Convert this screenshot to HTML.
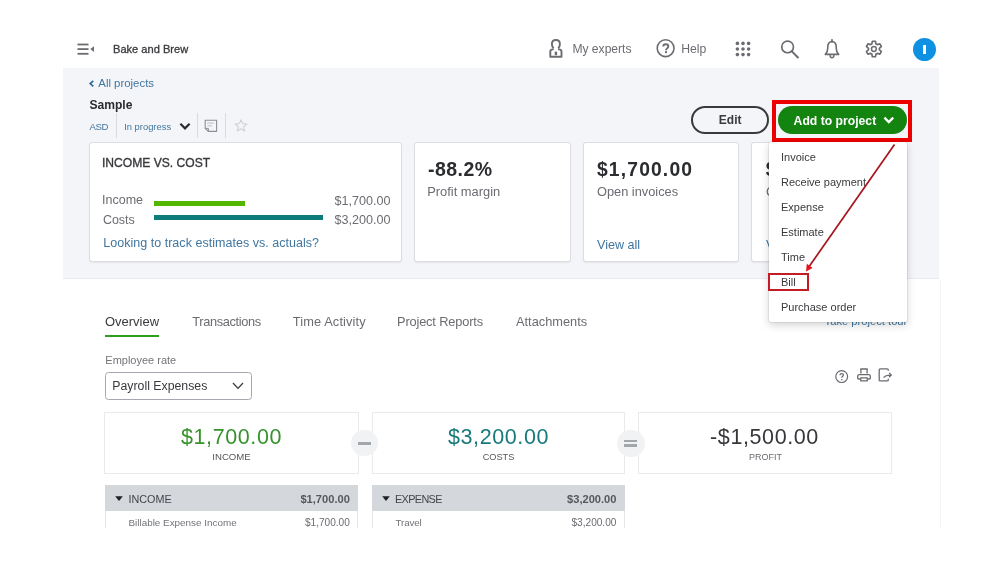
<!DOCTYPE html>
<html><head><meta charset="utf-8">
<style>
*{margin:0;padding:0;box-sizing:border-box}
html,body{width:999px;height:562px;overflow:hidden;background:#fff}
body{position:relative;will-change:transform;font-family:"Liberation Sans",sans-serif;color:#393a3d}
.a{position:absolute;white-space:nowrap;line-height:1}
.g{color:#6b6c72}
.b{color:#41769f}
.bd{font-weight:bold}
svg{position:absolute;overflow:visible}
#hdrbg{position:absolute;left:63px;top:68px;width:876px;height:211px;background:#f4f5f8;border-bottom:1px solid #e9ebee}
.card{position:absolute;top:142.8px;height:118.6px;background:#fff;border-radius:2px;box-shadow:0 0 0 1px #dcdee2,0 1px 2px rgba(0,0,0,.2)}
.sb{position:absolute;top:412.3px;height:61.6px;background:#fff;border:1px solid #e8eaec}
.circ{position:absolute;width:26.5px;height:26.5px;border-radius:50%;background:#f1f2f4}
.th{position:absolute;top:485.4px;height:26px;background:#d4d7dc}
.tr{position:absolute;top:511.4px;height:16.6px;border-left:1px solid #e4e6e9;border-right:1px solid #e4e6e9;background:#fff}
.mi{position:absolute;left:781px;font-size:11px;line-height:1}
</style></head><body>

<!-- top nav -->
<svg style="left:77px;top:43px" width="20" height="13" viewBox="0 0 20 13">
 <rect x="0.5" y="0.6" width="11" height="1.8" fill="#6b6c72"/>
 <rect x="0.5" y="5.2" width="11" height="1.8" fill="#6b6c72"/>
 <rect x="0.5" y="9.9" width="11" height="1.8" fill="#6b6c72"/>
 <path d="M17 3.2 L13.3 6.1 L17 9 Z" fill="#6b6c72"/>
</svg>
<div class="a" style="left:113px;top:44.1px;font-size:11.1px;-webkit-text-stroke:0.3px #393a3d;color:#393a3d">Bake and Brew</div>

<!-- my experts icon -->
<svg style="left:545px;top:36px" width="22" height="24" viewBox="545 36 22 24">
 <path d="M553.6 48.2 C552.2 47 551.9 45.4 551.9 43.9 C551.9 41.2 553.5 40 555.9 40 C558.3 40 559.9 41.2 559.9 43.9 C559.9 45.4 559.6 47 558.2 48.2" fill="none" stroke="#6b6c72" stroke-width="1.9"/>
 <path d="M553.8 49.4 L552.9 49.4 C551.3 49.4 550.3 50.3 550.3 51.7 L550.3 56.7 L561.5 56.7 L561.5 51.7 C561.5 50.3 560.5 49.4 558.9 49.4 L558 49.4" fill="none" stroke="#6b6c72" stroke-width="1.9" stroke-linejoin="round"/>
 <path d="M554.7 51.6 L557.1 51.6 L557.1 55.2 L554.7 55.2 Z" fill="#6b6c72"/>
</svg>
<div class="a g" style="left:572.4px;top:43.2px;font-size:12.1px">My experts</div>
<svg style="left:652px;top:36px" width="26" height="26" viewBox="652 36 26 26">
 <circle cx="665.6" cy="48.2" r="8.4" fill="none" stroke="#6b6c72" stroke-width="1.6"/>
 <path d="M663.3 46.6 C663.3 45 664.4 44.3 665.8 44.3 C667.3 44.3 668.3 45.1 668.3 46.4 C668.3 48.3 666 48.4 666 50.3" fill="none" stroke="#6b6c72" stroke-width="1.9"/>
 <circle cx="666" cy="52.2" r="1.15" fill="#6b6c72"/>
</svg>
<div class="a g" style="left:681.2px;top:43.2px;font-size:12.2px">Help</div>
<!-- grid -->
<svg style="left:735px;top:41px" width="16" height="16" viewBox="0 0 16 16" fill="#6b6c72">
 <circle cx="2.4" cy="2.4" r="1.8"/><circle cx="8" cy="2.4" r="1.8"/><circle cx="13.6" cy="2.4" r="1.8"/>
 <circle cx="2.4" cy="8" r="1.8"/><circle cx="8" cy="8" r="1.8"/><circle cx="13.6" cy="8" r="1.8"/>
 <circle cx="2.4" cy="13.6" r="1.8"/><circle cx="8" cy="13.6" r="1.8"/><circle cx="13.6" cy="13.6" r="1.8"/>
</svg>
<!-- search -->
<svg style="left:780px;top:40px" width="20" height="19" viewBox="0 0 20 19">
 <circle cx="7.6" cy="6.9" r="5.85" fill="none" stroke="#6b6c72" stroke-width="1.7"/>
 <path d="M11.9 11.4 L17.9 17.5" stroke="#6b6c72" stroke-width="2" stroke-linecap="round"/>
</svg>
<!-- bell -->
<svg style="left:820px;top:36px" width="24" height="26" viewBox="820 36 24 26">
 <path d="M832 40 L832 41.4" stroke="#6b6c72" stroke-width="1.8" stroke-linecap="round"/>
 <path d="M825.3 54.4 C827.3 52.6 827.8 50.5 827.8 46.8 C827.8 43.6 829.4 41.7 832 41.7 C834.6 41.7 836.2 43.6 836.2 46.8 C836.2 50.5 836.7 52.6 838.7 54.4 Z" fill="none" stroke="#6b6c72" stroke-width="1.6" stroke-linejoin="round"/>
 <path d="M830 55 A2 2.7 0 0 0 834 55" fill="none" stroke="#6b6c72" stroke-width="1.4"/>
</svg>
<!-- gear -->
<svg style="left:862px;top:37px" width="24" height="24" viewBox="862 37 24 24">
 <path fill="none" stroke="#6b6c72" stroke-width="1.7" stroke-linejoin="round" d="M871.76 43.93 L872.41 41.24 L875.39 41.24 L876.04 43.93 L877.22 44.61 L879.87 43.83 L881.36 46.41 L879.36 48.32 L879.36 49.68 L881.36 51.59 L879.87 54.17 L877.22 53.39 L876.04 54.07 L875.39 56.76 L872.41 56.76 L871.76 54.07 L870.58 53.39 L867.93 54.17 L866.44 51.59 L868.44 49.68 L868.44 48.32 L866.44 46.41 L867.93 43.83 L870.58 44.61 Z"/>
 <circle cx="873.9" cy="49" r="2.4" fill="none" stroke="#6b6c72" stroke-width="1.5"/>
</svg>
<!-- avatar -->
<div style="position:absolute;left:912.5px;top:37.7px;width:23px;height:23px;border-radius:50%;background:#0f91e3"></div>
<div style="position:absolute;left:923.2px;top:45.1px;width:2.5px;height:8.9px;background:#fff"></div>

<!-- gray project header -->
<div id="hdrbg"></div>
<svg style="left:89px;top:80px" width="6" height="7" viewBox="0 0 6 7"><path d="M4.3 0.9 L1.2 3.6 L4.3 6.3" fill="none" stroke="#2f6b99" stroke-width="1.7"/></svg>
<div class="a b" style="left:98.3px;top:77.8px;font-size:11.4px">All projects</div>
<div class="a bd" style="left:89.4px;top:99.3px;font-size:12.1px;color:#2b2c30">Sample</div>
<div class="a b" style="left:89.4px;top:121.9px;font-size:9.6px;letter-spacing:-0.35px">ASD</div>
<div style="position:absolute;left:115.5px;top:113px;width:1px;height:25px;background:#d9dbdf"></div>
<div class="a b" style="left:124.2px;top:122px;font-size:9.4px">In progress</div>
<svg style="left:179px;top:122px" width="12" height="9" viewBox="0 0 12 9"><path d="M1.4 1.8 L6 6.4 L10.6 1.8" fill="none" stroke="#2b2c30" stroke-width="2.2"/></svg>
<div style="position:absolute;left:196.5px;top:113px;width:1px;height:25px;background:#d9dbdf"></div>
<svg style="left:204px;top:119px" width="14" height="14" viewBox="0 0 14 14">
 <path d="M1.2 1.2 L12.6 1.2 L12.6 12.4 L4.4 12.4 L1.2 9.4 Z" fill="none" stroke="#8d9096" stroke-width="1.1"/>
 <path d="M1.2 9.4 L4.4 9.4 L4.4 12.4" fill="none" stroke="#8d9096" stroke-width="1"/>
 <path d="M3.4 4.6 L4.3 3.6 L5.2 4.6 L6.1 3.6 L7 4.6 L7.9 3.6 L8.8 4.6 L9.7 3.6 M3.4 7.4 L4.3 6.4 L5.2 7.4 L6.1 6.4 L7 7.4 L7.9 6.4" fill="none" stroke="#a9acb1" stroke-width="0.8"/>
</svg>
<div style="position:absolute;left:225px;top:113px;width:1px;height:25px;background:#d9dbdf"></div>
<svg style="left:234px;top:119px" width="14" height="13" viewBox="0 0 14 13"><path d="M7 0.8 L8.7 4.6 L12.9 5 L9.7 7.8 L10.7 12 L7 9.8 L3.3 12 L4.3 7.8 L1.1 5 L5.3 4.6 Z" fill="none" stroke="#d0d2d6" stroke-width="1.1" stroke-linejoin="round"/></svg>

<!-- buttons -->
<div style="position:absolute;left:691px;top:106px;width:77.5px;height:28px;border:2px solid #393a3d;border-radius:14px"></div>
<div class="a bd" style="left:718.8px;top:113.6px;font-size:12px">Edit</div>
<div style="position:absolute;left:772px;top:100px;width:140px;height:41.5px;border:4.2px solid #ee0000"></div>
<div style="position:absolute;left:778.3px;top:106px;width:129px;height:28px;border-radius:14px;background:#12840f"></div>
<div class="a bd" style="left:793.6px;top:114.9px;font-size:12.2px;color:#fff">Add to project</div>
<svg style="left:883px;top:116px" width="12" height="9" viewBox="0 0 12 9"><path d="M1.4 1.6 L5.8 6 L10.2 1.6" fill="none" stroke="#fff" stroke-width="2.3"/></svg>

<!-- cards -->
<div class="card" style="left:90px;width:311px"></div>
<div class="a" style="left:102px;top:157px;font-size:12.1px;-webkit-text-stroke:0.35px #393a3d;color:#393a3d">INCOME VS. COST</div>
<div class="a g" style="left:102px;top:194.4px;font-size:12.5px">Income</div>
<div class="a g" style="left:102.9px;top:213.7px;font-size:12.5px">Costs</div>
<div style="position:absolute;left:154px;top:200.5px;width:90.5px;height:5.2px;background:#53b700"></div>
<div style="position:absolute;left:154px;top:214.7px;width:169px;height:5.3px;background:#0e7c7b"></div>
<div class="a g" style="right:608.5px;top:194.7px;font-size:12.6px">$1,700.00</div>
<div class="a g" style="right:608.5px;top:213.6px;font-size:12.6px">$3,200.00</div>
<div class="a b" style="left:103.2px;top:237px;font-size:12.5px;letter-spacing:0.03px">Looking to track estimates vs. actuals?</div>

<div class="card" style="left:415px;width:155px"></div>
<div class="a bd" style="left:428px;top:159.7px;font-size:19.5px;letter-spacing:0.45px;color:#2b2c30">-88.2%</div>
<div class="a g" style="left:427.2px;top:186.1px;font-size:12.9px">Profit margin</div>

<div class="card" style="left:584px;width:154px"></div>
<div class="a bd" style="left:597px;top:159.6px;font-size:19.3px;letter-spacing:1.15px;color:#2b2c30">$1,700.00</div>
<div class="a g" style="left:597px;top:186.2px;font-size:12.8px">Open invoices</div>
<div class="a b" style="left:597px;top:238.8px;font-size:12.6px">View all</div>

<div class="card" style="left:752px;width:154px"></div>
<div class="a bd" style="left:765.8px;top:159.6px;font-size:19.3px;color:#2b2c30">$</div>
<div class="a g" style="left:766px;top:186.2px;font-size:12.8px">O</div>
<div class="a b" style="left:766px;top:238.8px;font-size:12.6px">V</div>

<!-- main content -->
<div style="position:absolute;left:939.6px;top:279px;width:1px;height:249px;background:#f5f5f6"></div>
<div class="a b" style="left:824.6px;top:316.2px;font-size:11.2px">Take project tour</div>

<div class="a" style="left:104.9px;top:314.7px;font-size:13px">Overview</div>
<div style="position:absolute;left:104.9px;top:335.3px;width:54.1px;height:2.1px;background:#2ca01c"></div>
<div class="a g" style="left:192.3px;top:316px;font-size:12.8px;letter-spacing:-0.35px">Transactions</div>
<div class="a g" style="left:292.8px;top:316px;font-size:12.8px;letter-spacing:0.12px">Time Activity</div>
<div class="a g" style="left:397px;top:316px;font-size:12.8px;letter-spacing:-0.15px">Project Reports</div>
<div class="a g" style="left:516px;top:316px;font-size:12.8px">Attachments</div>

<div class="a" style="left:105.3px;top:354.9px;font-size:11px;color:#727479">Employee rate</div>
<div style="position:absolute;left:104.5px;top:371.5px;width:147px;height:28px;border:1px solid #a4a8ae;border-radius:3.5px;background:#fff"></div>
<div class="a" style="left:112.3px;top:380.2px;font-size:12.3px">Payroll Expenses</div>
<svg style="left:232px;top:382px" width="12" height="8" viewBox="0 0 12 8"><path d="M1 1 L6 6.4 L11 1" fill="none" stroke="#393a3d" stroke-width="1.3"/></svg>

<svg style="left:835px;top:369.5px" width="14" height="14" viewBox="0 0 14 14">
 <circle cx="6.7" cy="6.6" r="5.9" fill="none" stroke="#6b6c72" stroke-width="1.2"/>
 <path d="M5 5.3 C5 4.2 5.8 3.6 6.7 3.6 C7.7 3.6 8.4 4.2 8.4 5.1 C8.4 6.3 6.8 6.4 6.8 7.8" fill="none" stroke="#6b6c72" stroke-width="1.3"/>
 <circle cx="6.8" cy="9.7" r="0.8" fill="#6b6c72"/>
</svg>
<svg style="left:854px;top:365px" width="42" height="20" viewBox="854 365 42 20">
 <path d="M860.9 373.6 L860.9 369 L867.1 369 L867.1 373.6" fill="none" stroke="#6b6c72" stroke-width="1.3"/>
 <path d="M860.2 379 L858.6 379 C858 379 857.7 378.6 857.7 378 L857.7 376.2 C857.7 375.2 858.3 374.6 859.3 374.6 L868.7 374.6 C869.7 374.6 870.3 375.2 870.3 376.2 L870.3 378 C870.3 378.6 870 379 869.4 379 L867.8 379" fill="none" stroke="#6b6c72" stroke-width="1.3"/>
 <path d="M860.8 377.9 L867.2 377.9 L867.2 380.8 L860.8 380.8 Z" fill="none" stroke="#6b6c72" stroke-width="1.3"/>
 <path d="M888.3 370.7 L888.3 369.9 C888.3 369.2 887.8 368.9 887.2 368.9 L880.2 368.9 C879.6 368.9 879.2 369.3 879.2 369.9 L879.2 379.9 C879.2 380.5 879.6 380.9 880.2 380.9 L887.2 380.9 C887.8 380.9 888.3 380.6 888.3 379.9 L888.3 378.7" fill="none" stroke="#6b6c72" stroke-width="1.3"/>
 <path d="M883.6 377.7 C884.8 375.7 886.8 375.1 891 375.1 M889.1 372.9 L891.3 375.1 L889.1 377.3" fill="none" stroke="#6b6c72" stroke-width="1.3"/>
</svg>

<!-- summary -->
<div class="sb" style="left:104px;width:255px"></div>
<div class="sb" style="left:371.5px;width:253.5px"></div>
<div class="sb" style="left:637.5px;width:254px"></div>
<div class="a" style="left:104px;width:255px;text-align:center;top:427px;font-size:21.5px;letter-spacing:0.6px;color:#36922b">$1,700.00</div>
<div class="a" style="left:104px;width:255px;text-align:center;top:451.5px;font-size:9.6px;color:#55575c">INCOME</div>
<div class="a" style="left:371.5px;width:254px;text-align:center;top:427px;font-size:21.5px;letter-spacing:0.6px;color:#18797a">$3,200.00</div>
<div class="a" style="left:371.5px;width:254px;text-align:center;top:452.6px;font-size:9.2px;color:#55575c">COSTS</div>
<div class="a" style="left:637.5px;width:254px;text-align:center;top:427px;font-size:21.5px;letter-spacing:0.6px;color:#36373b">-$1,500.00</div>
<div class="a g" style="left:638.5px;width:254px;text-align:center;top:452.6px;font-size:9.0px">PROFIT</div>
<div class="circ" style="left:351.2px;top:429.8px"></div>
<div style="position:absolute;left:358.2px;top:441.8px;width:12.5px;height:2.9px;background:#a3a6ab"></div>
<div class="circ" style="left:617px;top:429.8px;width:27.5px;height:27.5px"></div>
<div style="position:absolute;left:624.1px;top:439.6px;width:12.9px;height:2.8px;background:#a3a6ab"></div>
<div style="position:absolute;left:624.1px;top:444.1px;width:12.9px;height:2.8px;background:#a3a6ab"></div>

<!-- tables -->
<div class="th" style="left:105px;width:253px"></div>
<svg style="left:114.8px;top:496.3px" width="9" height="6" viewBox="0 0 9 6"><path d="M0.2 0.2 L7.8 0.2 L4 5 Z" fill="#1f2024"/></svg>
<div class="a" style="left:128.5px;top:493.6px;font-size:10.8px;color:#43454a">INCOME</div>
<div class="a bd" style="right:649.2px;top:493.6px;font-size:11.1px;color:#56585d">$1,700.00</div>
<div class="tr" style="left:105px;width:253px"></div>
<div class="a g" style="left:128.5px;top:518.3px;font-size:9.9px;color:#717378">Billable Expense Income</div>
<div class="a g" style="right:649.2px;top:518.3px;font-size:10.1px">$1,700.00</div>

<div class="th" style="left:372px;width:253px"></div>
<svg style="left:382.2px;top:496.3px" width="9" height="6" viewBox="0 0 9 6"><path d="M0.2 0.2 L7.8 0.2 L4 5 Z" fill="#1f2024"/></svg>
<div class="a" style="left:395px;top:493.6px;font-size:10.8px;letter-spacing:-0.6px;color:#43454a">EXPENSE</div>
<div class="a bd" style="right:382.6px;top:493.6px;font-size:11.1px;color:#56585d">$3,200.00</div>
<div class="tr" style="left:372px;width:253px"></div>
<div class="a g" style="left:395.6px;top:518.3px;font-size:9.9px;letter-spacing:-0.2px;color:#717378">Travel</div>
<div class="a g" style="right:382.6px;top:518.3px;font-size:10.1px">$3,200.00</div>

<!-- dropdown -->
<div style="position:absolute;left:769.3px;top:142px;width:138px;height:179.5px;background:#fff;border-radius:2px;box-shadow:0 0 0 1px rgba(0,0,0,.06),0 3px 8px rgba(0,0,0,.18)"></div>
<div class="mi" style="top:151.7px">Invoice</div>
<div class="mi" style="top:176.7px">Receive payment</div>
<div class="mi" style="top:201.6px">Expense</div>
<div class="mi" style="top:226.5px">Estimate</div>
<div class="mi" style="top:252px">Time</div>
<div class="mi" style="top:276.9px">Bill</div>
<div class="mi" style="top:301.8px">Purchase order</div>
<div style="position:absolute;left:768px;top:272.8px;width:40.5px;height:18px;border:2px solid #c21d24"></div>

<!-- annotation arrow -->
<svg style="left:0;top:0" width="999" height="562" viewBox="0 0 999 562">
 <path d="M894.5 144.6 L809.5 266" stroke="#a8141c" stroke-width="1.7" fill="none"/>
 <path d="M806 271.5 L806.8 263.8 L812.6 267.9 Z" fill="#e0141c"/>
</svg>

</body></html>
